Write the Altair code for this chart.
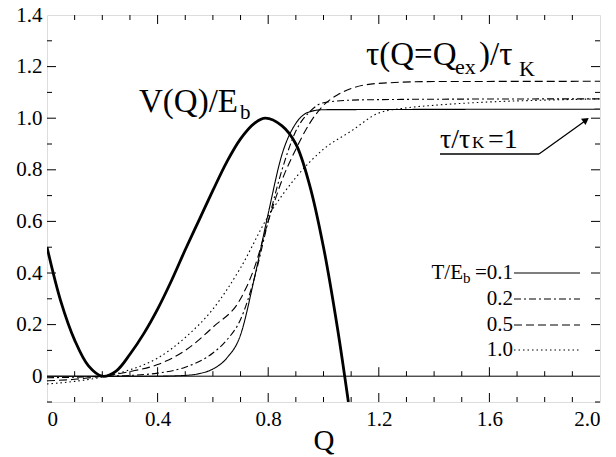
import altair as alt
import pandas as pd

# ---------------- data ----------------
v_q = [0, 0.05, 0.1, 0.15, 0.2, 0.25, 0.3, 0.35, 0.4, 0.45, 0.5, 0.55, 0.6, 0.65,
       0.7, 0.75, 0.79, 0.85, 0.9, 0.95, 1.0, 1.05, 1.09]
v_val = [0.5, 0.29, 0.14, 0.04, 0.0, 0.02, 0.085, 0.165, 0.26, 0.37, 0.49, 0.605, 0.72,
         0.83, 0.92, 0.98, 1.0, 0.97, 0.90, 0.74, 0.50, 0.19, -0.1]

t01_q = [0, 0.2, 0.4, 0.5, 0.55, 0.6, 0.65, 0.7, 0.75, 0.8, 0.85, 0.9, 0.95, 1.0, 2.0]
t01_v = [0, 0, 0, 0.003, 0.01, 0.028, 0.07, 0.16, 0.38, 0.63, 0.86, 0.98, 1.025, 1.033, 1.035]

t02_q = [0, 0.1, 0.2, 0.3, 0.4, 0.5, 0.6, 0.65, 0.7, 0.75, 0.8, 0.85, 0.9, 0.95, 1.0,
         1.1, 1.2, 1.5, 2.0]
t02_v = [-0.006, -0.004, 0.0, 0.003, 0.012, 0.035, 0.09, 0.14, 0.22, 0.38, 0.6, 0.8,
         0.95, 1.025, 1.06, 1.07, 1.072, 1.074, 1.075]

t05_q = [0, 0.1, 0.2, 0.3, 0.4, 0.5, 0.6, 0.7, 0.75, 0.8, 0.85, 0.9, 0.95, 1.0, 1.05,
         1.1, 1.2, 1.4, 2.0]
t05_v = [-0.018, -0.012, 0.0, 0.018, 0.045, 0.1, 0.19, 0.30, 0.42, 0.6, 0.76, 0.88,
         0.98, 1.05, 1.09, 1.115, 1.135, 1.142, 1.143]

t10_q = [0, 0.1, 0.2, 0.3, 0.4, 0.5, 0.6, 0.7, 0.8, 0.9, 0.95, 1.0, 1.1, 1.2, 1.3,
         1.4, 1.6, 1.8, 2.0]
t10_v = [-0.03, -0.02, -0.003, 0.025, 0.07, 0.15, 0.26, 0.42, 0.62, 0.77, 0.83, 0.88,
         0.95, 1.02, 1.04, 1.05, 1.063, 1.07, 1.075]

legend_labels = ["0.1", "0.2", "0.5", "1.0"]

x_labels = [0, 0.4, 0.8, 1.2, 1.6, 2.0]
x_major = [0.4, 0.8, 1.2, 1.6]
x_minor = [0.1, 0.2, 0.3, 0.5, 0.6, 0.7, 0.9, 1.0, 1.1, 1.3, 1.4, 1.5, 1.7, 1.8, 1.9]
y_labels = [0, 0.2, 0.4, 0.6, 0.8, 1.0, 1.2, 1.4]
y_major = [0.2, 0.4, 0.6, 0.8, 1.0, 1.2]
y_minor = [-0.1, 0.1, 0.3, 0.5, 0.7, 0.9, 1.1, 1.3]

# ---------------- layout / style ----------------
W, H = 553, 387
FONT = "Liberation Serif, DejaVu Serif, Noto Serif, serif"
MAJ, MIN = 9, 5

xs = alt.Scale(domain=[0, 2.0], nice=False, zero=False)
ys = alt.Scale(domain=[-0.1, 1.4], nice=False, zero=False)
xaxis = alt.Axis(values=x_labels, labelExpr="datum.value == 0 ? '0' : format(datum.value, '.1f')",
                 ticks=False, domain=False, grid=False, labelFont=FONT, labelFontSize=21,
                 labelColor="black", labelPadding=6, title="Q", titleFont=FONT,
                 titleFontSize=29, titleFontWeight="normal", titleColor="black", titlePadding=-3)
yaxis = alt.Axis(values=y_labels, labelExpr="datum.value == 0 ? '0' : format(datum.value, '.1f')",
                 ticks=False, domain=False, grid=False, labelFont=FONT, labelFontSize=21,
                 labelColor="black", labelPadding=5, title=None)


def X():
    return alt.X("Q:Q", scale=xs, axis=xaxis)


def Y():
    return alt.Y("y:Q", scale=ys, axis=yaxis)


layers = []

# zero line
layers.append(alt.Chart(pd.DataFrame({"y": [0.0]})).mark_rule(color="black", strokeWidth=1)
              .encode(y=Y(), x=alt.value(0), x2=alt.value(W)))

# ticks
for vals, ln in [(x_major, MAJ), (x_minor, MIN)]:
    d = pd.DataFrame({"Q": vals})
    layers.append(alt.Chart(d).mark_rule(color="black", strokeWidth=1)
                  .encode(x=X(), y=alt.value(H), y2=alt.value(H - ln)))
    layers.append(alt.Chart(d).mark_rule(color="black", strokeWidth=1)
                  .encode(x=X(), y=alt.value(0), y2=alt.value(ln)))
    layers.append(alt.Chart(d.assign(y=0.0)).mark_rule(color="black", strokeWidth=1, y2Offset=-ln)
                  .encode(x=X(), y=Y(), y2=alt.Y2("y:Q")))
for vals, ln in [(y_major, MAJ), (y_minor, MIN)]:
    d = pd.DataFrame({"y": vals})
    layers.append(alt.Chart(d).mark_rule(color="black", strokeWidth=1)
                  .encode(y=Y(), x=alt.value(0), x2=alt.value(ln)))
    layers.append(alt.Chart(d).mark_rule(color="black", strokeWidth=1)
                  .encode(y=Y(), x=alt.value(W), x2=alt.value(W - ln)))

# tau curves
series = [(t01_q, t01_v, [1, 0]), (t02_q, t02_v, [7, 3, 2, 3]),
          (t05_q, t05_v, [8, 4]), (t10_q, t10_v, [1.5, 3])]
for q, v, dash in series:
    d = pd.DataFrame({"Q": q, "y": v})
    layers.append(alt.Chart(d).mark_line(color="black", strokeWidth=1.1, strokeDash=dash,
                                         interpolate="monotone", clip=True)
                  .encode(x=X(), y=Y()))

# V(Q)
layers.append(alt.Chart(pd.DataFrame({"Q": v_q, "y": v_val}))
              .mark_line(color="black", strokeWidth=2.8, interpolate="catmull-rom", clip=True)
              .encode(x=X(), y=Y()))


def txt(s, x, y, size, align="left"):
    return (alt.Chart(pd.DataFrame({"t": [s]}))
            .mark_text(font=FONT, fontSize=size, color="black", align=align, baseline="alphabetic")
            .encode(text="t:N", x=alt.value(x), y=alt.value(y)))


# annotations
layers += [txt("V(Q)/E", 92, 97, 33), txt("b", 193, 104, 21)]
layers += [txt("τ(Q=Q", 319, 50, 33), txt("ex", 408, 59, 22),
           txt(")/τ", 432, 50, 33), txt("K", 472, 61, 22)]
layers += [txt("τ/τ", 393, 133, 28), txt("K", 425, 133, 17), txt("=1", 441, 133, 28)]
layers.append(alt.Chart(pd.DataFrame({"a": [0]})).mark_rule(color="black", strokeWidth=1.3)
              .encode(x=alt.value(393), x2=alt.value(492), y=alt.value(139), y2=alt.value(139)))
layers.append(alt.Chart(pd.DataFrame({"a": [0]})).mark_rule(color="black", strokeWidth=1.3)
              .encode(x=alt.value(492), x2=alt.value(538), y=alt.value(139), y2=alt.value(106)))
layers.append(alt.Chart(pd.DataFrame({"a": [0]})).mark_point(shape="triangle-right", filled=True,
                                                              color="black", size=60, angle=324.5, opacity=1)
              .encode(x=alt.value(539), y=alt.value(105)))

# legend
row_y = [258, 284, 310, 335]
for i, (lab, (_, _, dash)) in enumerate(zip(legend_labels, series)):
    yy = row_y[i]
    layers.append(alt.Chart(pd.DataFrame({"a": [0]})).mark_rule(color="black", strokeWidth=1.1, strokeDash=dash)
                  .encode(x=alt.value(467), x2=alt.value(533), y=alt.value(yy), y2=alt.value(yy)))
    prefix = "=" if i == 0 else ""
    layers.append(txt(prefix + lab, 466, yy + 6, 21, align="right"))
layers += [txt("T/E", 416, row_y[0] + 6, 21, align="right"), txt("b", 416, row_y[0] + 10, 15)]

chart = (alt.layer(*layers)
         .properties(width=W, height=H, autosize="none",
                     padding={"left": 39, "top": 7, "right": 8, "bottom": 54})
         .configure_view(stroke="black", strokeWidth=1.5)
         .configure(background="white", font=FONT))

chart.save("out.html", embed_options={"renderer": "svg", "actions": False})
